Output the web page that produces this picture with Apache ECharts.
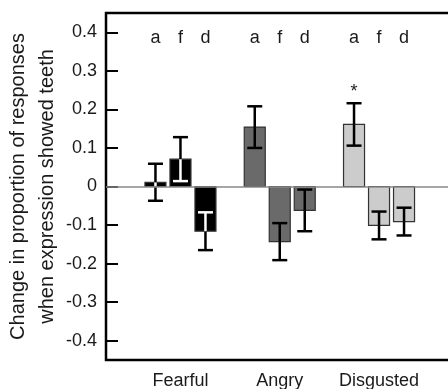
<!DOCTYPE html>
<html>
<head>
<meta charset="utf-8">
<script src="https://cdn.jsdelivr.net/npm/echarts@6/dist/echarts.min.js"></script>
<style>
  html, body { margin: 0; padding: 0; background: #fff; }
  #main { width: 448px; height: 389px; }
</style>
</head>
<body>
<div id="main"></div>
<script>
// groups on the x axis (value positions 1, 2, 3)
var groups = ['Fearful', 'Angry', 'Disgusted'];
var groupPos = [1, 2, 3];
// response type within each group
var barKeys = ['a', 'f', 'd'];
// mean change, one value per group
var valA = [0.011, 0.154, 0.161];
var valF = [0.071, -0.143, -0.101];
var valD = [-0.116, -0.062, -0.091];
// standard error, one value per group
var errA = [0.048, 0.054, 0.055];
var errF = [0.057, 0.048, 0.036];
var errD = [0.049, 0.054, 0.036];
// significance marks
var starA = ['', '', '*'];
var starF = ['', '', ''];
var starD = ['', '', ''];
var yTicks = [-0.4, -0.3, -0.2, -0.1, 0, 0.1, 0.2, 0.3, 0.4];

var stars = [starA, starF, starD];
var fills = ['#000000', '#6a6a6a', '#cccccc'];
var innerErr = ['#ffffff', '#000000', '#000000'];
var offsets = [-25, 0, 25];
var letterY = 0.385;
var font = '"Liberation Sans", Arial, Helvetica, sans-serif';

var myChart = echarts.init(document.getElementById('main'));

function makeData(vals, errs) {
    var out = [];
    for (var i = 0; i < vals.length; i++) {
        out.push([groupPos[i], vals[i], errs[i]]);
    }
    return out;
}

function renderBar(params, api) {
    var k = params.seriesIndex - 1;
    var g = params.dataIndex;
    var x = api.value(0), v = api.value(1), e = api.value(2);
    var star = stars[k][g];
    var p0 = api.coord([x, 0]);
    var pv = api.coord([x, v]);
    var cx = p0[0] + offsets[k];
    var bw = 21, cap = 15;
    var children = [];
    children.push({
        type: 'rect',
        shape: { x: cx - bw / 2, y: Math.min(p0[1], pv[1]), width: bw, height: Math.abs(pv[1] - p0[1]) },
        style: { fill: fills[g], stroke: '#333', lineWidth: 1.2 }
    });
    // error bar: parts inside the bar get the inner colour
    var lo = v - e, hi = v + e;
    var bLo = Math.min(0, v), bHi = Math.max(0, v);
    function seg(a, b, col) {
        if (b <= a) return;
        var pa = api.coord([x, a]), pb = api.coord([x, b]);
        children.push({
            type: 'line',
            shape: { x1: cx, y1: pa[1], x2: cx, y2: pb[1] },
            style: { stroke: col, lineWidth: 2.5 }
        });
    }
    seg(lo, Math.min(hi, bLo), '#000');
    seg(Math.max(lo, bLo), Math.min(hi, bHi), innerErr[g]);
    seg(Math.max(lo, bHi), hi, '#000');
    [lo, hi].forEach(function (val) {
        var py = api.coord([x, val])[1];
        var inside = val > bLo && val < bHi;
        children.push({
            type: 'line',
            shape: { x1: cx - cap / 2, y1: py, x2: cx + cap / 2, y2: py },
            style: { stroke: inside ? innerErr[g] : '#000', lineWidth: 2.5 }
        });
    });
    var pl = api.coord([x, letterY]);
    children.push({
        type: 'text',
        style: { text: barKeys[k], x: cx, y: pl[1], align: 'center', verticalAlign: 'middle',
                 font: '18px ' + font, fill: '#1a1a1a' }
    });
    if (star) {
        var ps = api.coord([x, hi]);
        children.push({
            type: 'text',
            style: { text: star, x: cx, y: ps[1] - 2, align: 'center', verticalAlign: 'bottom',
                     font: '18px ' + font, fill: '#1a1a1a' }
        });
    }
    return { type: 'group', children: children };
}

var option = {
    animation: false,
    backgroundColor: '#fff',
    grid: {
        left: 106, right: -5, top: 13, bottom: 29,
        outerBoundsMode: 'none',
        containLabel: false,
        show: true, borderColor: '#000', borderWidth: 2.5
    },
    xAxis: {
        type: 'value',
        min: 0.25,
        max: 3.745,
        splitLine: { show: false },
        axisLine: { show: false },
        axisTick: { show: false },
        axisLabel: {
            customValues: groupPos,
            formatter: function (v) { return groups[Math.round(v) - 1]; },
            fontSize: 18, fontFamily: font, color: '#1a1a1a', margin: 12
        }
    },
    yAxis: {
        type: 'value',
        min: -0.45,
        max: 0.45,
        name: 'Change in proportion of responses\nwhen expression showed teeth',
        nameLocation: 'middle',
        nameGap: 44,
        nameMoveOverlap: false,
        nameTextStyle: { fontSize: 20, fontFamily: font, color: '#1a1a1a', lineHeight: 29 },
        splitLine: { show: false },
        axisLine: { show: false },
        axisTick: {
            customValues: yTicks,
            inside: true, length: 12,
            lineStyle: { color: '#000', width: 2 }
        },
        axisLabel: {
            customValues: yTicks,
            formatter: function (v) { return v === 0 ? '0' : v.toFixed(1); },
            fontSize: 18, fontFamily: font, color: '#1a1a1a', margin: 9
        }
    },
    series: [
        {
            type: 'line',
            data: [],
            z: 1,
            markLine: {
                silent: true,
                symbol: 'none',
                label: { show: false },
                lineStyle: { color: '#888', width: 1.5, type: 'solid' },
                data: [{ yAxis: 0 }]
            }
        },
        { name: 'a', type: 'custom', z: 2, renderItem: renderBar, data: makeData(valA, errA) },
        { name: 'f', type: 'custom', z: 2, renderItem: renderBar, data: makeData(valF, errF) },
        { name: 'd', type: 'custom', z: 2, renderItem: renderBar, data: makeData(valD, errD) }
    ]
};

myChart.setOption(option);
</script>
</body>
</html>
